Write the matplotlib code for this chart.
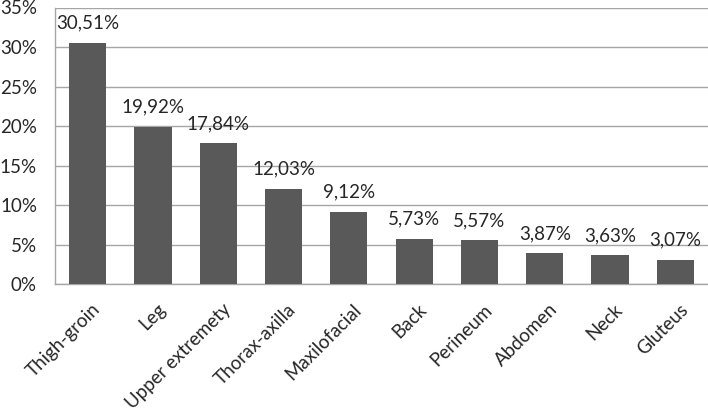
import matplotlib
matplotlib.use("Agg")
import matplotlib.pyplot as plt
from matplotlib.ticker import FuncFormatter
from matplotlib.transforms import ScaledTranslation

categories = ["Thigh-groin", "Leg", "Upper extremety", "Thorax-axilla", "Maxilofacial",
              "Back", "Perineum", "Abdomen", "Neck", "Gluteus"]
values = [30.51, 19.92, 17.84, 12.03, 9.12, 5.73, 5.57, 3.87, 3.63, 3.07]
labels = ["30,51%", "19,92%", "17,84%", "12,03%", "9,12%", "5,73%", "5,57%", "3,87%", "3,63%", "3,07%"]

plt.rcParams['font.family'] = ['Lato', 'DejaVu Sans']
txt = '#262626'
fs = 13.5

fig = plt.figure(figsize=(7.08, 4.12), dpi=100)
ax = fig.add_axes([55/708, 1-284/412, 653/708, 276.5/412])

x = list(range(len(categories)))
ax.bar(x, values, width=0.57, color='#595959', zorder=3)
for xi, v, l in zip(x, values, labels):
    ax.annotate(l, (xi, v), xytext=(0, 8), textcoords='offset points',
                ha='center', va='bottom', fontsize=fs, color=txt)

ax.set_xlim(-0.5, len(categories) - 0.5)
ax.set_ylim(0, 35)
ax.set_yticks(range(0, 36, 5))
ax.yaxis.set_major_formatter(FuncFormatter(lambda v, p: f"{int(v)}%"))
ax.set_xticks(x)
ax.set_xticklabels(categories, rotation=45, ha='right', rotation_mode='anchor')
ax.tick_params(axis='both', length=0, labelsize=fs, colors=txt)
ax.tick_params(axis='y', pad=13)
ax.tick_params(axis='x', pad=12)
off = ScaledTranslation(4/100, 0, fig.dpi_scale_trans)
for lab in ax.get_xticklabels():
    lab.set_transform(lab.get_transform() + off)
ax.grid(axis='y', color='#a6a6a6', linewidth=1.0, zorder=0)
for s in ['top', 'right']:
    ax.spines[s].set_visible(False)
for s in ['left', 'bottom']:
    ax.spines[s].set_color('#a6a6a6')
    ax.spines[s].set_linewidth(1.0)

fig.savefig("out.png", dpi=100)
